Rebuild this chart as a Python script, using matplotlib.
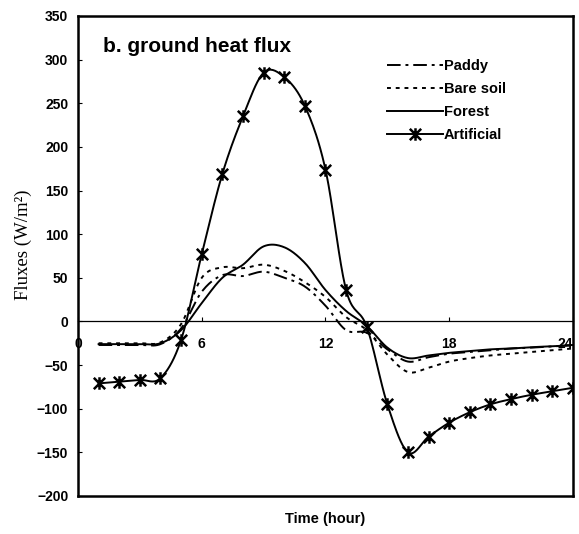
import matplotlib
matplotlib.use('Agg')
import matplotlib.pyplot as plt
from matplotlib.path import Path
import numpy as np

hours = np.arange(1, 25)
paddy = [-27, -27, -27, -26, -8, 34, 53, 52, 57, 50, 40, 18,
         -10, -13, -32, -46, -41, -37, -35, -33, -31, -30, -28.5, -27.5]
bare_soil = [-25, -25, -25, -24, -3, 50, 62, 61, 65, 58, 45, 28,
             5, -10, -38, -58, -53, -46, -42, -39, -37, -35, -33, -31]
forest = [-26, -26, -26, -25, -10, 21, 50, 65, 86, 85, 67, 36,
          12, -5, -30, -42, -39, -36, -34, -32, -31, -29.5, -28.5, -27]
artificial = [-71, -69, -67, -65, -21, 77, 169, 235, 285, 280, 247, 174,
              36, -6, -95, -150, -132, -116, -104, -95, -89, -84, -80, -76]

xticks = [0, 6, 12, 18, 24]
yticks = np.arange(-200, 351, 50)


def smooth(x, y, n=20):
    # Catmull-Rom curve through the points, like Excel's smoothed line
    x = np.asarray(x, float)
    y = np.asarray(y, float)
    px = np.concatenate([[2 * x[0] - x[1]], x, [2 * x[-1] - x[-2]]])
    py = np.concatenate([[2 * y[0] - y[1]], y, [2 * y[-1] - y[-2]]])
    t = np.linspace(0, 1, n, endpoint=False)
    xs, ys = [], []
    for i in range(1, len(px) - 2):
        for p, out in ((px, xs), (py, ys)):
            p0, p1, p2, p3 = p[i - 1], p[i], p[i + 1], p[i + 2]
            out.append(0.5 * (2 * p1 + (-p0 + p2) * t
                              + (2 * p0 - 5 * p1 + 4 * p2 - p3) * t ** 2
                              + (-p0 + 3 * p1 - 3 * p2 + p3) * t ** 3))
    xs.append([x[-1]])
    ys.append([y[-1]])
    return np.concatenate(xs), np.concatenate(ys)


# excel-style star marker: an x with a vertical bar
star = Path([(-1, -1), (1, 1), (-1, 1), (1, -1), (0, -1.1), (0, 1.1)],
            [Path.MOVETO, Path.LINETO, Path.MOVETO, Path.LINETO, Path.MOVETO, Path.LINETO])

plt.rcParams['font.family'] = 'Liberation Sans'

fig = plt.figure(figsize=(5.79, 5.34), dpi=100)
ax = fig.add_axes([0.1347, 0.0712, 0.8549, 0.8989])

# x axis sits on the zero line; do this first, it resets the ticks
ax.spines['bottom'].set_position(('data', 0))
ax.spines['bottom'].set_linewidth(0.9)
for s in ['top', 'left', 'right']:
    ax.spines[s].set_linewidth(1.8)

lw = 1.4
pd_dash = (7, 2.5, 1.5, 2.5)
bs_dash = (2, 2.5)
ax.plot(*smooth(hours, paddy), color='black', lw=lw, dashes=pd_dash)
ax.plot(*smooth(hours, bare_soil), color='black', lw=lw, dashes=bs_dash)
ax.plot(*smooth(hours, forest), color='black', lw=lw)
ax.plot(*smooth(hours, artificial), color='black', lw=lw)
ax.plot(hours, artificial, ls='none', marker=star, ms=9, mew=1.8, color='black')

# legend handles
h1, = ax.plot([], [], color='black', lw=lw, dashes=pd_dash, label='Paddy')
h2, = ax.plot([], [], color='black', lw=lw, dashes=bs_dash, label='Bare soil')
h3, = ax.plot([], [], color='black', lw=lw, label='Forest')
h4, = ax.plot([], [], color='black', lw=lw, marker=star, ms=9, mew=1.8, label='Artificial')
ax.legend(handles=[h1, h2, h3, h4], loc='upper left', bbox_to_anchor=(0.61, 0.926),
          frameon=False, borderpad=0, handlelength=3.8, handletextpad=0.1,
          labelspacing=0.62, prop={'size': 10.5, 'weight': 'bold'})

ax.text(0.05, 0.925, 'b. ground heat flux', transform=ax.transAxes,
        fontsize=15, fontweight='bold', va='baseline')

ax.set_xlim(0, 24)
ax.set_ylim(-200, 350)
ax.set_xticks(xticks)
ax.set_yticks(yticks)
ax.tick_params(axis='both', direction='in', length=3, labelsize=10)
ax.tick_params(axis='x', pad=11)
ax.tick_params(axis='y', pad=7)
for lab in ax.get_xticklabels() + ax.get_yticklabels():
    lab.set_fontweight('bold')
# keep the last hour label inside the picture
ax.get_xticklabels()[-1].set_horizontalalignment('right')

# bottom frame line of the box
ax.plot([0, 1], [0, 0], transform=ax.transAxes, color='black', lw=1.8, clip_on=False)

ax.set_ylabel('Fluxes (W/m²)', family='Liberation Serif', fontsize=13.5)
ax.yaxis.set_label_coords(-0.092, 0.523)
ax.set_xlabel('Time (hour)', fontsize=10.5, fontweight='bold', va='top')
ax.xaxis.set_label_coords(0.5, -0.033)

fig.savefig('out.png', dpi=100)
